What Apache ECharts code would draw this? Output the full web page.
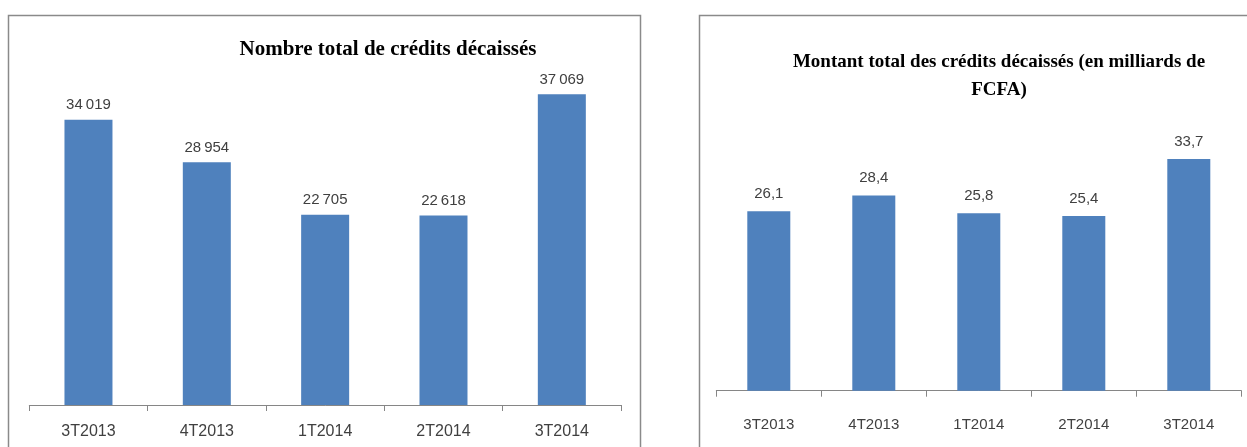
<!DOCTYPE html>
<html>
<head>
<meta charset="utf-8">
<script src="https://cdn.jsdelivr.net/npm/echarts@6/dist/echarts.min.js"></script>
<style>
html,body{margin:0;padding:0;background:#fff;}
#chart{width:1247px;height:447px;}
</style>
</head>
<body>
<div id="chart"></div>
<script>
const categories = ['3T2013', '4T2013', '1T2014', '2T2014', '3T2014'];
const nombreCredits = [34019, 28954, 22705, 22618, 37069];
const montantCredits = [26.1, 28.4, 25.8, 25.4, 33.7];
const titleNombre = 'Nombre total de crédits décaissés';
const titleMontant = 'Montant total des crédits décaissés (en milliards de\nFCFA)';

const BAR = '#4F81BD';
const AXIS = '#868686';
const TXT = '#404040';
const SANS = "'Liberation Sans', Arial, sans-serif";
const SERIF = "'Liberation Serif', 'Times New Roman', serif";

function fmtInt(v) {
  return String(Math.round(v)).replace(/\B(?=(\d{3})+(?!\d))/g, '\u2009');
}
function fmtDec(v) {
  return v.toFixed(1).replace('.', ',');
}

const chart = echarts.init(document.getElementById('chart'), null, {renderer: 'canvas'});

function xAxisCfg(gridIndex, fontSize, margin) {
  return {
    type: 'category', gridIndex: gridIndex, data: categories, boundaryGap: true,
    axisLine: {show: true, lineStyle: {color: AXIS, width: 1}},
    axisTick: {show: true, length: 6, lineStyle: {color: AXIS, width: 1}},
    axisLabel: {color: TXT, fontFamily: SANS, fontSize: fontSize, margin: margin, interval: 0},
    splitLine: {show: false}
  };
}
function yAxisCfg(gridIndex, max) {
  return {
    type: 'value', gridIndex: gridIndex, min: 0, max: max,
    axisLine: {show: false}, axisTick: {show: false}, axisLabel: {show: false}, splitLine: {show: false}
  };
}

chart.setOption({
  animation: false,
  backgroundColor: '#fff',
  grid: [
    {left: 29.3, right: 626, top: 69.7, bottom: 42},
    {left: 716.3, right: 5.7, top: 115.7, bottom: 56.3}
  ],
  xAxis: [xAxisCfg(0, 16, 19), xAxisCfg(1, 15, 27)],
  yAxis: [yAxisCfg(0, 40000), yAxisCfg(1, 40)],
  series: [
    {
      type: 'bar', xAxisIndex: 0, yAxisIndex: 0, data: nombreCredits, barWidth: 48,
      itemStyle: {color: BAR},
      label: {show: true, position: 'top', distance: 7, color: TXT, fontFamily: SANS, fontSize: 15,
        formatter: p => fmtInt(p.value)}
    },
    {
      type: 'bar', xAxisIndex: 1, yAxisIndex: 1, data: montantCredits, barWidth: 43,
      itemStyle: {color: BAR},
      label: {show: true, position: 'top', distance: 10, color: TXT, fontFamily: SANS, fontSize: 15,
        formatter: p => fmtDec(p.value)}
    }
  ],
  graphic: [
    {type: 'rect', silent: true, shape: {x: 8.5, y: 15.5, width: 632, height: 500},
      style: {fill: 'none', stroke: '#8a8a8a', lineWidth: 1.5}},
    {type: 'rect', silent: true, shape: {x: 699.5, y: 15.5, width: 600, height: 500},
      style: {fill: 'none', stroke: '#8a8a8a', lineWidth: 1.5}},
    {type: 'text', silent: true, x: 388, y: 50,
      style: {text: titleNombre, font: 'bold 21px ' + SERIF, fill: '#000',
        align: 'center', verticalAlign: 'middle', textAlign: 'center', textVerticalAlign: 'middle'}},
    {type: 'text', silent: true, x: 999, y: 76,
      style: {text: titleMontant, font: 'bold 19px ' + SERIF, fill: '#000', lineHeight: 28,
        align: 'center', verticalAlign: 'middle', textAlign: 'center', textVerticalAlign: 'middle'}}
  ]
});
</script>
</body>
</html>
